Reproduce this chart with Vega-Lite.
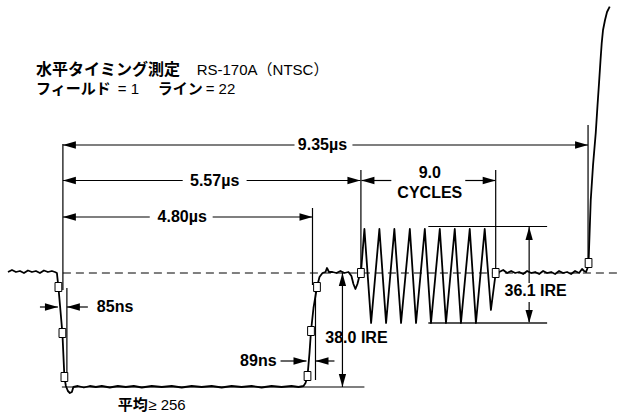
{
  "$schema": "https://vega.github.io/schema/vega-lite/v6.json",
  "width": 619,
  "height": 419,
  "padding": 0,
  "autosize": {"type": "fit", "contains": "padding"},
  "background": "white",
  "config": {"view": {"stroke": null}},
  "datasets": {
    "baseline": [{"x": 63, "x2": 619, "y": 273}],
    "rules": [
      {"x": 63, "x2": 63, "y": 144, "y2": 290},
      {"x": 67, "x2": 67, "y": 288, "y2": 380},
      {"x": 313, "x2": 313, "y": 208, "y2": 285},
      {"x": 316, "x2": 316, "y": 292, "y2": 380},
      {"x": 361.5, "x2": 361.5, "y": 170, "y2": 273},
      {"x": 496.5, "x2": 496.5, "y": 170, "y2": 273},
      {"x": 589, "x2": 589, "y": 125, "y2": 262},
      {"x": 63, "x2": 295, "y": 145, "y2": 145},
      {"x": 353, "x2": 589, "y": 145, "y2": 145},
      {"x": 63, "x2": 183, "y": 180.5, "y2": 180.5},
      {"x": 247, "x2": 361, "y": 180.5, "y2": 180.5},
      {"x": 63, "x2": 150, "y": 217, "y2": 217},
      {"x": 213, "x2": 313, "y": 217, "y2": 217},
      {"x": 362, "x2": 392, "y": 180.5, "y2": 180.5},
      {"x": 466, "x2": 496, "y": 180.5, "y2": 180.5},
      {"x": 40, "x2": 58, "y": 307, "y2": 307},
      {"x": 67, "x2": 88, "y": 307, "y2": 307},
      {"x": 281, "x2": 307, "y": 361, "y2": 361},
      {"x": 316, "x2": 335, "y": 361, "y2": 361},
      {"x": 343, "x2": 343, "y": 273, "y2": 387},
      {"x": 62, "x2": 365, "y": 387, "y2": 387},
      {"x": 429, "x2": 548, "y": 226.5, "y2": 226.5},
      {"x": 530, "x2": 530, "y": 227, "y2": 283},
      {"x": 530, "x2": 530, "y": 302, "y2": 323}
    ],
    "burstBottom": [{"x": 429, "x2": 548, "y": 323}],
    "heads": [
      {"x": 63, "y": 145, "dir": "l"},
      {"x": 589, "y": 145, "dir": "r"},
      {"x": 63, "y": 180.5, "dir": "l"},
      {"x": 361, "y": 180.5, "dir": "r"},
      {"x": 63, "y": 217, "dir": "l"},
      {"x": 313, "y": 217, "dir": "r"},
      {"x": 362, "y": 180.5, "dir": "l"},
      {"x": 496.5, "y": 180.5, "dir": "r"},
      {"x": 58, "y": 307, "dir": "r"},
      {"x": 67, "y": 307, "dir": "l"},
      {"x": 307, "y": 361, "dir": "r"},
      {"x": 316, "y": 361, "dir": "l"},
      {"x": 343, "y": 273, "dir": "u"},
      {"x": 343, "y": 387, "dir": "d"},
      {"x": 530, "y": 227, "dir": "u"},
      {"x": 530, "y": 323, "dir": "d"}
    ],
    "wave": [
      {"i": 1, "x": 8, "y": 272}, {"i": 2, "x": 12, "y": 270}, {"i": 3, "x": 16, "y": 272},
      {"i": 4, "x": 20, "y": 271}, {"i": 5, "x": 24, "y": 273}, {"i": 6, "x": 28, "y": 270.5},
      {"i": 7, "x": 32, "y": 272}, {"i": 8, "x": 36, "y": 271}, {"i": 9, "x": 40, "y": 273},
      {"i": 10, "x": 44, "y": 270.5}, {"i": 11, "x": 48, "y": 272}, {"i": 12, "x": 52, "y": 271},
      {"i": 13, "x": 55, "y": 272}, {"i": 14, "x": 57, "y": 273}, {"i": 15, "x": 58.5, "y": 287},
      {"i": 16, "x": 60.5, "y": 310}, {"i": 17, "x": 62.5, "y": 333}, {"i": 18, "x": 63.5, "y": 355},
      {"i": 19, "x": 64.5, "y": 377}, {"i": 20, "x": 66, "y": 386}, {"i": 21, "x": 68, "y": 391},
      {"i": 22, "x": 70, "y": 393}, {"i": 23, "x": 72, "y": 392}, {"i": 24, "x": 73.5, "y": 387},
      {"i": 25, "x": 78, "y": 386}, {"i": 26, "x": 84, "y": 387.5}, {"i": 27, "x": 90, "y": 386},
      {"i": 28, "x": 96, "y": 387}, {"i": 29, "x": 102, "y": 386}, {"i": 30, "x": 110, "y": 387.5},
      {"i": 31, "x": 118, "y": 386}, {"i": 32, "x": 126, "y": 387}, {"i": 33, "x": 134, "y": 386},
      {"i": 34, "x": 142, "y": 387.5}, {"i": 35, "x": 152, "y": 386}, {"i": 36, "x": 162, "y": 387},
      {"i": 37, "x": 172, "y": 386}, {"i": 38, "x": 182, "y": 387.5}, {"i": 39, "x": 192, "y": 386},
      {"i": 40, "x": 202, "y": 387}, {"i": 41, "x": 212, "y": 386}, {"i": 42, "x": 222, "y": 387.5},
      {"i": 43, "x": 232, "y": 386}, {"i": 44, "x": 242, "y": 387}, {"i": 45, "x": 252, "y": 386},
      {"i": 46, "x": 262, "y": 387.5}, {"i": 47, "x": 272, "y": 386}, {"i": 48, "x": 282, "y": 387},
      {"i": 49, "x": 292, "y": 386}, {"i": 50, "x": 299, "y": 387}, {"i": 51, "x": 304, "y": 386},
      {"i": 52, "x": 306, "y": 383}, {"i": 53, "x": 308, "y": 376}, {"i": 54, "x": 310, "y": 353},
      {"i": 55, "x": 311.5, "y": 331}, {"i": 56, "x": 314, "y": 308}, {"i": 57, "x": 317.5, "y": 287},
      {"i": 58, "x": 320, "y": 277}, {"i": 59, "x": 323, "y": 273}, {"i": 60, "x": 326, "y": 272},
      {"i": 61, "x": 327.5, "y": 268}, {"i": 62, "x": 329.5, "y": 272}, {"i": 63, "x": 333, "y": 272},
      {"i": 64, "x": 337, "y": 273}, {"i": 65, "x": 341, "y": 271}, {"i": 66, "x": 345, "y": 273},
      {"i": 67, "x": 349, "y": 272}, {"i": 68, "x": 352, "y": 276}, {"i": 69, "x": 354, "y": 284},
      {"i": 70, "x": 356, "y": 289}, {"i": 71, "x": 358, "y": 284}, {"i": 72, "x": 360, "y": 276},
      {"i": 73, "x": 361.5, "y": 273}, {"i": 74, "x": 365, "y": 229}, {"i": 75, "x": 371.7, "y": 323},
      {"i": 76, "x": 380, "y": 229}, {"i": 77, "x": 386.7, "y": 323}, {"i": 78, "x": 395, "y": 229},
      {"i": 79, "x": 401.7, "y": 323}, {"i": 80, "x": 410.5, "y": 229}, {"i": 81, "x": 416.7, "y": 323},
      {"i": 82, "x": 425.5, "y": 229}, {"i": 83, "x": 431.7, "y": 323}, {"i": 84, "x": 440.5, "y": 229},
      {"i": 85, "x": 446.7, "y": 323}, {"i": 86, "x": 455.5, "y": 229}, {"i": 87, "x": 461.7, "y": 323},
      {"i": 88, "x": 470.5, "y": 229}, {"i": 89, "x": 476.7, "y": 323}, {"i": 90, "x": 485.5, "y": 229},
      {"i": 91, "x": 491.7, "y": 310}, {"i": 92, "x": 496.5, "y": 273}, {"i": 93, "x": 500, "y": 272},
      {"i": 94, "x": 504, "y": 270}, {"i": 95, "x": 508, "y": 273}, {"i": 96, "x": 512, "y": 271},
      {"i": 97, "x": 516, "y": 273}, {"i": 98, "x": 520, "y": 272}, {"i": 99, "x": 524, "y": 274},
      {"i": 100, "x": 528, "y": 271}, {"i": 101, "x": 532, "y": 273}, {"i": 102, "x": 536, "y": 272},
      {"i": 103, "x": 540, "y": 274}, {"i": 104, "x": 544, "y": 271}, {"i": 105, "x": 548, "y": 273},
      {"i": 106, "x": 552, "y": 272}, {"i": 107, "x": 556, "y": 274}, {"i": 108, "x": 560, "y": 271},
      {"i": 109, "x": 564, "y": 273}, {"i": 110, "x": 568, "y": 272}, {"i": 111, "x": 572, "y": 274},
      {"i": 112, "x": 576, "y": 271}, {"i": 113, "x": 580, "y": 273}, {"i": 114, "x": 583, "y": 269},
      {"i": 115, "x": 585, "y": 271}, {"i": 116, "x": 587, "y": 272}, {"i": 117, "x": 588.5, "y": 268},
      {"i": 118, "x": 589.5, "y": 263}, {"i": 119, "x": 591.7, "y": 200}, {"i": 120, "x": 594, "y": 165},
      {"i": 121, "x": 596.7, "y": 133}, {"i": 122, "x": 598.5, "y": 105}, {"i": 123, "x": 600, "y": 83},
      {"i": 124, "x": 601.5, "y": 60}, {"i": 125, "x": 602.7, "y": 43}, {"i": 126, "x": 604, "y": 30},
      {"i": 127, "x": 606, "y": 20}, {"i": 128, "x": 608, "y": 12}, {"i": 129, "x": 610.7, "y": 6.7}
    ],
    "marks": [
      {"x": 58.5, "y": 287}, {"x": 62.5, "y": 333}, {"x": 64.5, "y": 377},
      {"x": 308, "y": 376}, {"x": 311.5, "y": 331}, {"x": 317.5, "y": 287},
      {"x": 361.5, "y": 273}, {"x": 496.5, "y": 273}, {"x": 589.5, "y": 263}
    ],
    "boldCenter": [
      {"x": 323, "y": 145, "label": "9.35µs"},
      {"x": 215, "y": 181, "label": "5.57µs"},
      {"x": 182.5, "y": 217, "label": "4.80µs"},
      {"x": 430.5, "y": 173, "label": "9.0"},
      {"x": 430.5, "y": 193, "label": "CYCLES"},
      {"x": 357, "y": 338, "label": "38.0 IRE"},
      {"x": 536.5, "y": 291, "label": "36.1 IRE"}
    ],
    "boldLeft": [
      {"x": 97, "y": 307, "label": "85ns"},
      {"x": 36, "y": 70, "label": "水平タイミング測定"}
    ],
    "boldLeftSmall": [
      {"x": 36, "y": 89, "label": "フィールド"},
      {"x": 158, "y": 89, "label": "ライン"},
      {"x": 118, "y": 405, "label": "平均"}
    ],
    "boldRight": [
      {"x": 277, "y": 361, "label": "89ns"}
    ],
    "normalLeft": [
      {"x": 197, "y": 70, "label": "RS-170A（NTSC）"},
      {"x": 118, "y": 89, "label": "= 1"},
      {"x": 206, "y": 89, "label": "= 22"},
      {"x": 148.5, "y": 405, "label": "≥ 256"}
    ]
  },
  "encoding": {
    "x": {"field": "x", "type": "quantitative", "scale": {"domain": [0, 619], "nice": false, "zero": false}, "axis": null},
    "y": {"field": "y", "type": "quantitative", "scale": {"domain": [0, 419], "nice": false, "zero": false, "reverse": true}, "axis": null}
  },
  "layer": [
    {
      "data": {"name": "baseline"},
      "mark": {"type": "rule", "color": "black", "strokeWidth": 1, "strokeDash": [8, 5]},
      "encoding": {"x2": {"field": "x2"}}
    },
    {
      "data": {"name": "rules"},
      "mark": {"type": "rule", "color": "black", "strokeWidth": 1.2},
      "encoding": {"x2": {"field": "x2"}, "y2": {"field": "y2"}}
    },
    {
      "data": {"name": "burstBottom"},
      "mark": {"type": "rule", "color": "#555555", "strokeWidth": 2},
      "encoding": {"x2": {"field": "x2"}}
    },
    {
      "data": {"name": "wave"},
      "mark": {"type": "line", "color": "black", "strokeWidth": 1.8, "interpolate": "linear", "strokeJoin": "round"},
      "encoding": {"order": {"field": "i", "type": "quantitative"}}
    },
    {
      "data": {"name": "heads"},
      "mark": {"type": "point", "filled": true, "color": "black", "opacity": 1, "size": 676, "strokeWidth": 0},
      "encoding": {
        "shape": {
          "field": "dir", "type": "nominal", "legend": null,
          "scale": {
            "domain": ["l", "r", "u", "d"],
            "range": ["M0,0L1,-0.28L1,0.28Z", "M0,0L-1,-0.28L-1,0.28Z", "M0,0L-0.28,1L0.28,1Z", "M0,0L-0.28,-1L0.28,-1Z"]
          }
        }
      }
    },
    {
      "data": {"name": "marks"},
      "mark": {"type": "point", "shape": "M-0.75,-1H0.75V1H-0.75Z", "size": 81, "filled": true, "fill": "white", "stroke": "black", "strokeWidth": 1, "opacity": 1}
    },
    {
      "data": {"name": "boldCenter"},
      "mark": {"type": "text", "font": "Liberation Sans, Noto Sans CJK JP", "fontWeight": "bold", "fontSize": 16, "align": "center", "baseline": "middle", "color": "black"},
      "encoding": {"text": {"field": "label"}}
    },
    {
      "data": {"name": "boldLeft"},
      "mark": {"type": "text", "font": "Liberation Sans, Noto Sans CJK JP", "fontWeight": "bold", "fontSize": 16, "align": "left", "baseline": "middle", "color": "black"},
      "encoding": {"text": {"field": "label"}}
    },
    {
      "data": {"name": "boldLeftSmall"},
      "mark": {"type": "text", "font": "Liberation Sans, Noto Sans CJK JP", "fontWeight": "bold", "fontSize": 15, "align": "left", "baseline": "middle", "color": "black"},
      "encoding": {"text": {"field": "label"}}
    },
    {
      "data": {"name": "boldRight"},
      "mark": {"type": "text", "font": "Liberation Sans, Noto Sans CJK JP", "fontWeight": "bold", "fontSize": 16, "align": "right", "baseline": "middle", "color": "black"},
      "encoding": {"text": {"field": "label"}}
    },
    {
      "data": {"name": "normalLeft"},
      "mark": {"type": "text", "font": "Liberation Sans, Noto Sans CJK JP", "fontWeight": "normal", "fontSize": 15, "align": "left", "baseline": "middle", "color": "black"},
      "encoding": {"text": {"field": "label"}}
    }
  ]
}
